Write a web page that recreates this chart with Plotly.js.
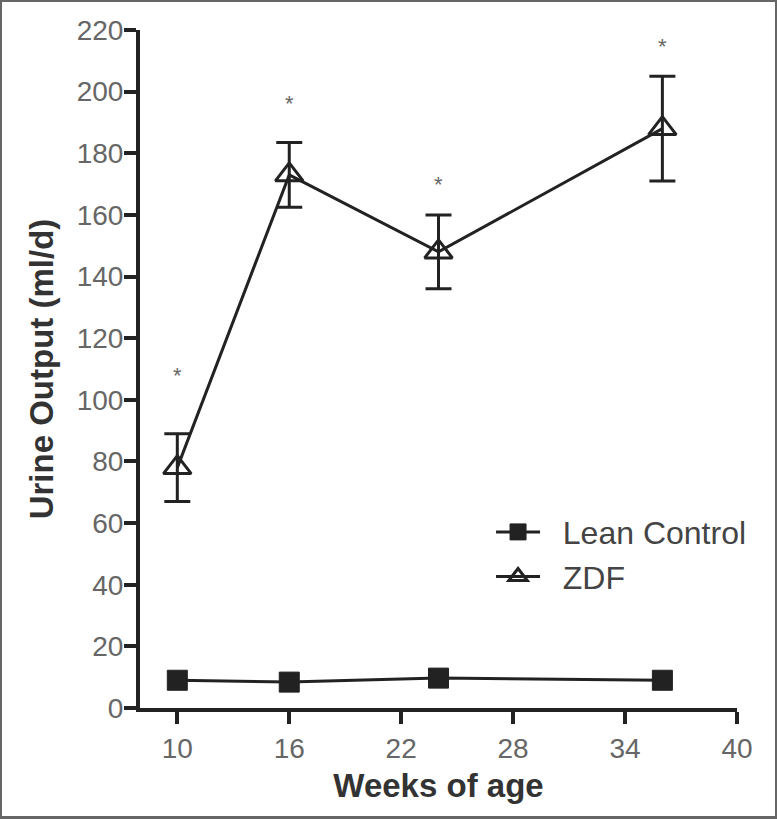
<!DOCTYPE html>
<html>
<head>
<meta charset="utf-8">
<script src="https://cdn.plot.ly/plotly-3.0.1.min.js"></script>
<style>
html,body{margin:0;padding:0;background:#fff;}
#wrap{position:relative;width:777px;height:819px;}
#chart{width:777px;height:819px;}
#frame{position:absolute;left:0;top:0;width:777px;height:819px;box-sizing:border-box;border:2px solid #666;border-bottom-width:3px;pointer-events:none;}
</style>
</head>
<body>
<div id="wrap"><div id="chart"></div><div id="frame"></div></div>
<script>
const weeks = [10, 16, 24, 36];
const leanControl = [9, 8.4, 9.7, 9];
const zdf = [78, 173, 148, 188];
const zdfErr = [11, 10.5, 12, 17];
const sigY = [108, 196, 170, 214.5];
const xTicks = [10, 16, 22, 28, 34, 40];
const yTicks = [0, 20, 40, 60, 80, 100, 120, 140, 160, 180, 200, 220];
const seriesNames = ['Lean Control', 'ZDF'];

const ink = '#222222';
const fam = 'Liberation Sans, Arial, sans-serif';
const pad = '\u00a0\u00a0';

const traces = [
  {
    x: weeks, y: leanControl, name: pad + seriesNames[0], type: 'scatter', mode: 'lines+markers',
    line: {color: ink, width: 3},
    marker: {symbol: 'square', size: 20, color: ink, line: {color: ink, width: 1}}
  },
  {
    x: weeks, y: zdf, name: pad + seriesNames[1], type: 'scatter', mode: 'lines+markers',
    line: {color: ink, width: 3},
    marker: {symbol: 'triangle-up-open', size: 24, color: ink, line: {color: ink, width: 3}},
    error_y: {type: 'data', array: zdfErr, visible: true, color: ink, thickness: 3, width: 13}
  }
];

const annotations = weeks.map((w, i) => ({
  x: w, y: sigY[i], xref: 'x', yref: 'y', text: '*', showarrow: false,
  font: {family: fam, size: 22, color: '#666'},
  yanchor: 'middle'
}));

const layout = {
  width: 777, height: 819,
  margin: {l: 140, r: 40, t: 30, b: 111},
  paper_bgcolor: '#fff', plot_bgcolor: '#fff',
  showlegend: true,
  legend: {
    x: 0.588, y: 0.30, xanchor: 'left', yanchor: 'top',
    font: {family: fam, size: 32, color: '#444'},
    bgcolor: 'rgba(0,0,0,0)', itemwidth: 44, tracegroupgap: 6
  },
  xaxis: {
    range: [8, 40], tickvals: xTicks, ticktext: xTicks.map(String),
    showgrid: false, zeroline: false, showline: true, linecolor: ink, linewidth: 4,
    ticks: 'outside', ticklen: 12, tickwidth: 4, tickcolor: ink,
    tickfont: {family: fam, size: 28, color: '#666'},
    title: {text: 'Weeks of age', standoff: 12,
      font: {family: fam, size: 33, color: '#333', weight: 'bold'}}
  },
  yaxis: {
    range: [0, 220], tickvals: yTicks, ticktext: yTicks.map(String),
    showgrid: false, zeroline: false, showline: true, linecolor: ink, linewidth: 4,
    ticks: 'outside', ticklen: 12, tickwidth: 4, tickcolor: ink, ticklabelstandoff: -5,
    tickfont: {family: fam, size: 28, color: '#666'},
    title: {text: 'Urine Output (ml/d)', standoff: 14,
      font: {family: fam, size: 33, color: '#333', weight: 'bold'}}
  },
  annotations: annotations
};

Plotly.newPlot('chart', traces, layout, {displayModeBar: false, staticPlot: true});
</script>
</body>
</html>
